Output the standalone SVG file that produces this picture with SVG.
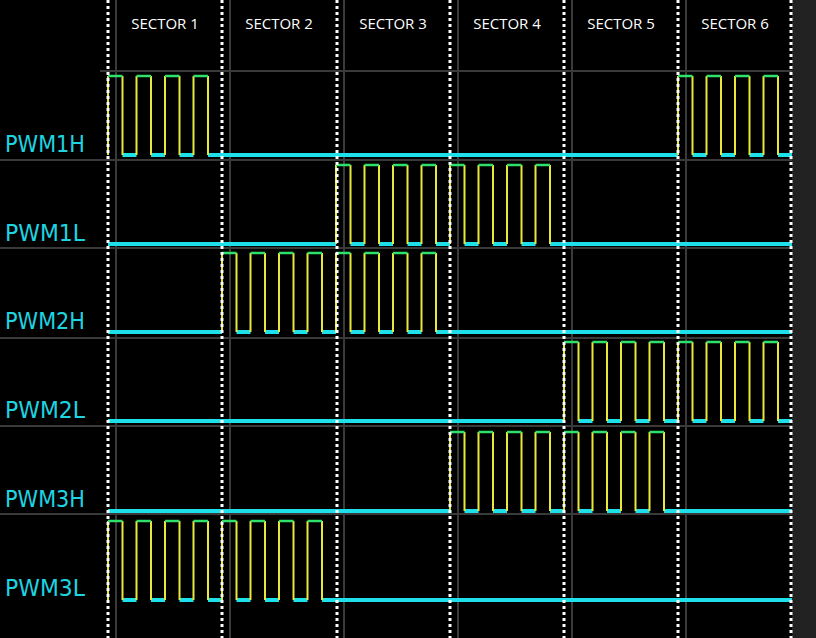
<svg xmlns="http://www.w3.org/2000/svg" xmlns:xlink="http://www.w3.org/1999/xlink" width="816" height="638" viewBox="0 0 816 638">
<style>
.grid{stroke:#3a3a3a;stroke-width:2}
.dot{stroke:#fff;stroke-width:3;stroke-dasharray:3 3}
.cy{stroke:#1ee0ea;stroke-width:4;fill:none}
.ye{stroke:#e8e83a;stroke-width:2;fill:none}
.gr{stroke:#2fe06a;stroke-width:2.5;fill:none}
.lbl{font-family:"DejaVu Sans",sans-serif;font-size:23px;fill:#1ed4e0}
.sec{font-family:"Open Sans","Liberation Sans",sans-serif;font-size:15px;fill:#fff;text-anchor:middle}
</style>
<defs>
<g id="train">
<path class="cy" d="M14.5 79H28.5M43 79H57M71.5 79H85.5M100 79H114"/>
<path class="ye" d="M0 0V79M14.5 0V79M28.5 0V79M43 0V79M57 0V79M71.5 0V79M85.5 0V79M100 0V79"/>
<path class="gr" d="M0 0H14.5M28.5 0H43M57 0H71.5M85.5 0H100"/>
</g>
<path id="flat" class="cy" d="M0 79H114"/>
</defs>
<rect width="816" height="638" fill="#000"/>
<rect x="792" y="0" width="24" height="638" fill="#222"/>
<g id="grid">
<path class="grid" d="M116 0V638M230 0V638M344 0V638M458 0V638M572 0V638M686 0V638M100 71H792M0 160H792M0 248H792M0 338H792M0 426H792M0 514H792"/>
</g>
<g id="labels">
<text class="sec" x="165" y="29">SECTOR 1</text>
<text class="sec" x="279" y="29">SECTOR 2</text>
<text class="sec" x="393" y="29">SECTOR 3</text>
<text class="sec" x="507" y="29">SECTOR 4</text>
<text class="sec" x="621" y="29">SECTOR 5</text>
<text class="sec" x="735" y="29">SECTOR 6</text>
</g>
<g id="PWM1H">
<text class="lbl" x="5" y="152" textLength="80" lengthAdjust="spacingAndGlyphs">PWM1H</text>
<use xlink:href="#train" x="108" y="76"/><use xlink:href="#flat" x="222" y="76"/><use xlink:href="#flat" x="336" y="76"/><use xlink:href="#flat" x="450" y="76"/><use xlink:href="#flat" x="564" y="76"/><use xlink:href="#train" x="678" y="76"/>
</g>
<g id="PWM1L">
<text class="lbl" x="5" y="241" textLength="80" lengthAdjust="spacingAndGlyphs">PWM1L</text>
<use xlink:href="#flat" x="108" y="165"/><use xlink:href="#flat" x="222" y="165"/><use xlink:href="#train" x="336" y="165"/><use xlink:href="#train" x="450" y="165"/><use xlink:href="#flat" x="564" y="165"/><use xlink:href="#flat" x="678" y="165"/>
</g>
<g id="PWM2H">
<text class="lbl" x="5" y="329" textLength="80" lengthAdjust="spacingAndGlyphs">PWM2H</text>
<use xlink:href="#flat" x="108" y="253"/><use xlink:href="#train" x="222" y="253"/><use xlink:href="#train" x="336" y="253"/><use xlink:href="#flat" x="450" y="253"/><use xlink:href="#flat" x="564" y="253"/><use xlink:href="#flat" x="678" y="253"/>
</g>
<g id="PWM2L">
<text class="lbl" x="5" y="418" textLength="80" lengthAdjust="spacingAndGlyphs">PWM2L</text>
<use xlink:href="#flat" x="108" y="342"/><use xlink:href="#flat" x="222" y="342"/><use xlink:href="#flat" x="336" y="342"/><use xlink:href="#flat" x="450" y="342"/><use xlink:href="#train" x="564" y="342"/><use xlink:href="#train" x="678" y="342"/>
</g>
<g id="PWM3H">
<text class="lbl" x="5" y="507" textLength="80" lengthAdjust="spacingAndGlyphs">PWM3H</text>
<use xlink:href="#flat" x="108" y="432"/><use xlink:href="#flat" x="222" y="432"/><use xlink:href="#flat" x="336" y="432"/><use xlink:href="#train" x="450" y="432"/><use xlink:href="#train" x="564" y="432"/><use xlink:href="#flat" x="678" y="432"/>
</g>
<g id="PWM3L">
<text class="lbl" x="5" y="596" textLength="80" lengthAdjust="spacingAndGlyphs">PWM3L</text>
<use xlink:href="#train" x="108" y="521"/><use xlink:href="#train" x="222" y="521"/><use xlink:href="#flat" x="336" y="521"/><use xlink:href="#flat" x="450" y="521"/><use xlink:href="#flat" x="564" y="521"/><use xlink:href="#flat" x="678" y="521"/>
</g>
<g id="connectors">
<path class="dot" d="M108 0V638M222 0V638M337 0V638M450 0V638M564 0V638M678 0V638M791 0V638"/>
</g>
</svg>
